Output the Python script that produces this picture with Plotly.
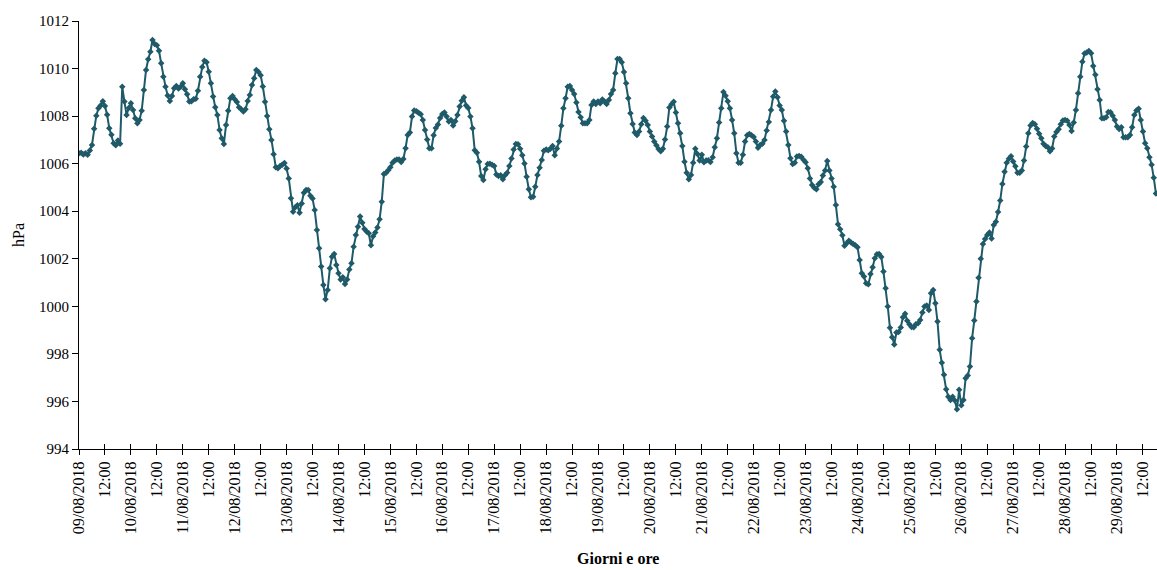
import pandas as pd
import plotly.graph_objects as go

# Hourly pressure readings (hPa), starting 09/08/2018 00:00
week1 = [
    1006.44, 1006.46, 1006.39, 1006.44, 1006.38, 1006.55, 1006.79, 1007.47, 1008.02, 1008.33, 1008.45, 1008.62,
    1008.43, 1008.06, 1007.49, 1007.22, 1006.86, 1006.77, 1006.97, 1006.84, 1009.24, 1008.61, 1008.05, 1008.34,
    1008.54, 1008.26, 1007.91, 1007.70, 1007.84, 1008.23, 1009.10, 1009.94, 1010.39, 1010.71, 1011.20, 1011.03,
    1010.98, 1010.75, 1010.22, 1009.66, 1009.24, 1008.87, 1008.64, 1008.85, 1009.17, 1009.27, 1009.16, 1009.24,
    1009.38, 1009.13, 1008.92, 1008.61, 1008.62, 1008.71, 1008.73, 1009.07, 1009.66, 1010.07, 1010.33, 1010.26,
    1009.87, 1009.38, 1008.82, 1008.37, 1008.05, 1007.42, 1007.07, 1006.83, 1007.63, 1008.23, 1008.75, 1008.85,
    1008.71, 1008.59, 1008.37, 1008.29, 1008.19, 1008.29, 1008.64, 1008.89, 1009.31, 1009.59, 1009.94, 1009.85,
    1009.72, 1009.25, 1008.60, 1008.00, 1007.45, 1007.00, 1006.40, 1005.85, 1005.81, 1005.90, 1005.95, 1006.03,
    1005.80, 1005.38, 1004.55, 1003.98, 1004.17, 1004.25, 1003.94, 1004.33, 1004.78, 1004.89, 1004.89, 1004.65,
    1004.53, 1004.05, 1003.21, 1002.44, 1001.67, 1000.90, 1000.30, 1000.69, 1001.60, 1002.09, 1002.20, 1001.74,
    1001.39, 1001.13, 1001.22, 1000.94, 1001.13, 1001.55, 1001.81, 1002.51, 1003.00, 1003.35, 1003.78, 1003.52,
    1003.25, 1003.15, 1003.07, 1002.57, 1002.95, 1003.11, 1003.32, 1003.66, 1004.40, 1005.57, 1005.62, 1005.72,
    1005.85, 1006.04, 1006.13, 1006.17, 1006.18, 1006.07, 1006.20, 1006.65, 1007.21, 1007.31, 1007.98, 1008.24,
    1008.20, 1008.14, 1008.08, 1007.84, 1007.42, 1007.02, 1006.65, 1006.65, 1007.20, 1007.50, 1007.65, 1007.92,
]
week2 = [
    1008.09, 1008.15, 1007.98, 1007.77, 1007.84, 1007.61, 1007.78, 1008.05, 1008.40, 1008.65, 1008.79, 1008.45,
    1008.34, 1007.98, 1007.49, 1006.56, 1006.46, 1006.08, 1005.48, 1005.31, 1005.76, 1005.99, 1006.00, 1005.95,
    1005.90, 1005.54, 1005.48, 1005.51, 1005.34, 1005.51, 1005.62, 1005.90, 1006.22, 1006.60, 1006.83, 1006.82,
    1006.63, 1006.35, 1006.01, 1005.45, 1004.92, 1004.59, 1004.61, 1005.03, 1005.52, 1005.83, 1006.15, 1006.54,
    1006.60, 1006.56, 1006.63, 1006.74, 1006.35, 1006.64, 1006.93, 1007.59, 1008.33, 1008.75, 1009.24, 1009.27,
    1009.10, 1008.93, 1008.57, 1008.17, 1007.95, 1007.70, 1007.70, 1007.70, 1007.84, 1008.47, 1008.61, 1008.51,
    1008.61, 1008.54, 1008.70, 1008.61, 1008.51, 1008.68, 1008.93, 1009.10, 1009.80, 1010.40, 1010.40, 1010.26,
    1009.86, 1009.38, 1008.75, 1008.12, 1007.67, 1007.31, 1007.21, 1007.35, 1007.66, 1007.92, 1007.81, 1007.63,
    1007.35, 1007.14, 1006.93, 1006.77, 1006.62, 1006.52, 1006.63, 1007.02, 1007.56, 1008.36, 1008.50, 1008.60,
    1008.15, 1007.70, 1007.28, 1006.74, 1006.08, 1005.62, 1005.34, 1005.52, 1006.04, 1006.63, 1006.41, 1006.13,
    1006.37, 1006.06, 1006.13, 1006.14, 1006.07, 1006.27, 1006.69, 1007.07, 1007.73, 1008.33, 1009.01, 1008.86,
    1008.62, 1008.33, 1007.84, 1007.28, 1006.44, 1006.04, 1006.04, 1006.37, 1006.93, 1007.19, 1007.25, 1007.19,
    1007.12, 1006.93, 1006.67, 1006.78, 1006.84, 1007.00, 1007.39, 1007.75, 1008.26, 1008.82, 1009.03, 1008.79,
    1008.45, 1008.26, 1007.81, 1007.35, 1006.79, 1006.23, 1005.99, 1006.04, 1006.30, 1006.32, 1006.29, 1006.16,
]
week3 = [
    1006.06, 1005.81, 1005.38, 1005.10, 1004.99, 1004.92, 1005.13, 1005.23, 1005.50, 1005.71, 1006.11, 1005.71,
    1005.38, 1005.03, 1004.26, 1003.45, 1003.24, 1002.99, 1002.55, 1002.65, 1002.76, 1002.68, 1002.62, 1002.57,
    1002.48, 1001.95, 1001.39, 1001.25, 1000.97, 1000.93, 1001.36, 1001.64, 1002.02, 1002.19, 1002.20, 1002.08,
    1001.46, 1000.76, 999.99, 999.10, 998.70, 998.40, 998.90, 998.92, 999.11, 999.54, 999.69, 999.39,
    999.25, 999.13, 999.12, 999.25, 999.29, 999.43, 999.74, 999.99, 1000.03, 999.85, 1000.55, 1000.69,
    1000.13, 999.36, 998.17, 997.63, 997.12, 996.51, 996.20, 996.06, 996.20, 996.04, 995.67, 996.49,
    995.84, 996.06, 996.98, 997.09, 997.47, 998.66, 999.40, 1000.20, 1001.20, 1002.00, 1002.62, 1002.83,
    1003.00, 1003.10, 1002.85, 1003.42, 1003.56, 1003.97, 1004.45, 1005.15, 1005.66, 1006.04, 1006.21, 1006.31,
    1006.09, 1005.89, 1005.62, 1005.62, 1005.71, 1006.13, 1006.72, 1007.28, 1007.60, 1007.71, 1007.66, 1007.47,
    1007.26, 1007.07, 1006.84, 1006.74, 1006.69, 1006.52, 1006.64, 1007.14, 1007.33, 1007.45, 1007.66, 1007.82,
    1007.84, 1007.81, 1007.63, 1007.37, 1007.73, 1008.26, 1008.96, 1009.66, 1010.29, 1010.63, 1010.68, 1010.74,
    1010.64, 1010.11, 1009.74, 1009.13, 1008.68, 1007.91, 1007.91, 1007.95, 1008.17, 1008.16, 1008.02, 1007.84,
    1007.56, 1007.46, 1007.53, 1007.11, 1007.11, 1007.11, 1007.21, 1007.53, 1008.05, 1008.24, 1008.31, 1007.84,
    1007.35, 1006.86, 1006.65, 1006.27, 1005.95, 1005.41, 1004.75,
]
pressure = week1 + week2 + week3

start_time = "2018-08-09 00:00"
times = pd.date_range(start_time, periods=len(pressure), freq="h")

tick_times = pd.date_range(start_time, "2018-08-29 12:00", freq="12h")
tick_labels = [t.strftime("%d/%m/%Y") if t.hour == 0 else t.strftime("%H:%M") for t in tick_times]

y_ticks = list(range(994, 1013, 2))

color = "#1f5a69"
font_family = "Liberation Serif, Times New Roman, serif"

fig = go.Figure()
fig.add_trace(go.Scatter(
    x=times, y=pressure, mode="lines+markers",
    line=dict(color=color, width=2),
    marker=dict(symbol="diamond", size=5, color=color),
    showlegend=False, hoverinfo="x+y",
))
# invisible trace on overlay axis for the inside half of crossing ticks
fig.add_trace(go.Scatter(x=[times[0]], y=[pressure[0]], xaxis="x2", mode="markers",
                         marker=dict(opacity=0), showlegend=False, hoverinfo="skip"))

x_end = times[0] + pd.Timedelta(hours=498.5)
xrange = [times[0], x_end]

fig.update_layout(
    width=1157, height=570,
    margin=dict(l=79, r=0, t=21, b=121),
    paper_bgcolor="white", plot_bgcolor="white",
    font=dict(family=font_family, size=15, color="black"),
    xaxis=dict(
        type="date", range=xrange,
        tickmode="array", tickvals=tick_times, ticktext=tick_labels,
        tickangle=-90, ticks="outside", ticklen=5, tickcolor="black", tickwidth=1,
        showline=True, linecolor="black", linewidth=1,
        showgrid=False, zeroline=False,
        tickfont=dict(family=font_family, size=16, color="black"),
    ),
    xaxis2=dict(
        type="date", range=xrange, overlaying="x", anchor="y", side="bottom",
        tickmode="array", tickvals=tick_times, ticktext=[""] * len(tick_times),
        ticks="inside", ticklen=5, tickcolor="black", tickwidth=1,
        showticklabels=False, showline=False, showgrid=False, zeroline=False,
    ),
    yaxis=dict(
        range=[994, 1012], tickmode="array", tickvals=y_ticks,
        ticks="outside", ticklen=6, tickcolor="black", tickwidth=1,
        showline=True, linecolor="black", linewidth=1,
        showgrid=False, zeroline=False,
        tickfont=dict(family=font_family, size=15, color="black"),
    ),
    annotations=[
        dict(text="<b>Giorni e ore</b>", xref="paper", yref="paper",
             x=0.5, y=-(558 - 449) / 428, xanchor="center", yanchor="middle",
             showarrow=False, font=dict(family=font_family, size=16, color="black")),
        dict(text="hPa", xref="paper", yref="paper",
             x=(18 - 79) / 1078, y=0.5, xanchor="center", yanchor="middle", textangle=-90,
             showarrow=False, font=dict(family=font_family, size=16, color="black")),
    ],
)

fig.write_html(
    "out.html",
    config={"displayModeBar": False},
    post_script="document.body.style.margin='0';document.body.style.padding='0';document.body.style.overflow='hidden';",
)
